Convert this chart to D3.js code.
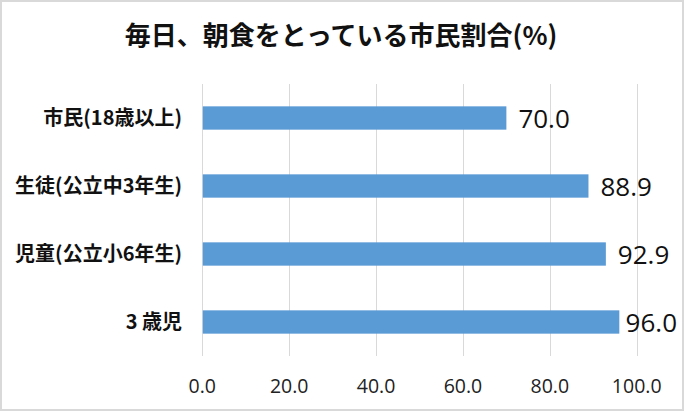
<!DOCTYPE html>
<html>
<head>
<meta charset="utf-8">
<script src="https://cdn.jsdelivr.net/npm/d3@7"></script>
<style>
  body { margin: 0; background: #fff; }
  svg { display: block; }
</style>
</head>
<body>
<svg width="685" height="412"></svg>
<script>
const title = '毎日、朝食をとっている市民割合(%)';
const categories = ['市民(18歳以上)', '生徒(公立中3年生)', '児童(公立小6年生)', '3 歳児'];
const values = [70.0, 88.9, 92.9, 96.0];
const ticks = [0, 20, 40, 60, 80, 100];

const W = 685, H = 412;
const cjk = '"Noto Sans CJK JP", "Noto Sans", sans-serif';
const num = '"Open Sans", "Noto Sans", sans-serif';

const svg = d3.select('svg');

// outer frame
svg.append('rect')
    .attr('x', 1).attr('y', 1)
    .attr('width', W - 3).attr('height', H - 3)
    .attr('fill', '#fff')
    .attr('stroke', '#d9d9d9')
    .attr('stroke-width', 2);

svg.append('text')
    .attr('x', 341).attr('y', 45)
    .attr('text-anchor', 'middle')
    .style('font-family', cjk)
    .style('font-weight', 'bold')
    .style('font-size', '26px')
    .attr('fill', '#111')
    .text(title);

const x = d3.scaleLinear().domain([0, 100]).range([202.3, 636.7]);
const y = d3.scaleBand().domain(categories).range([84, 356]).padding(0);
const barH = y.bandwidth() * 0.343;

// gridlines
svg.append('g')
    .selectAll('line')
    .data(ticks)
    .enter()
    .append('line')
    .attr('x1', d => Math.round(x(d)) + 0.5)
    .attr('x2', d => Math.round(x(d)) + 0.5)
    .attr('y1', 84)
    .attr('y2', 356)
    .attr('stroke', '#d9d9d9')
    .attr('stroke-width', 1);

// tick labels
svg.append('g')
    .selectAll('text')
    .data(ticks)
    .enter()
    .append('text')
    .attr('x', d => x(d))
    .attr('y', 393)
    .attr('text-anchor', 'middle')
    .style('font-family', num)
    .style('font-size', '19.5px')
    .attr('fill', '#222')
    .text(d => d.toFixed(1));

// category labels
svg.append('g')
    .selectAll('text')
    .data(categories)
    .enter()
    .append('text')
    .attr('x', 182)
    .attr('y', d => y(d) + y.bandwidth() / 2 + 7)
    .attr('text-anchor', 'end')
    .style('font-family', cjk)
    .style('font-weight', 'bold')
    .style('font-size', '20px')
    .attr('fill', '#111')
    .text(d => d);

// bars
svg.append('g')
    .selectAll('rect')
    .data(values)
    .enter()
    .append('rect')
    .attr('x', x(0) + 0.5)
    .attr('y', (d, i) => y(categories[i]) + (y.bandwidth() - barH) / 2)
    .attr('width', d => x(d) - x(0) - 0.5)
    .attr('height', barH)
    .attr('fill', '#5b9bd5');

// value labels, kept inside the frame
svg.append('g')
    .selectAll('text')
    .data(values)
    .enter()
    .append('text')
    .attr('y', (d, i) => y(categories[i]) + y.bandwidth() / 2 + 10)
    .style('font-family', num)
    .style('font-size', '26px')
    .attr('fill', '#111')
    .text(d => d.toFixed(1))
    .attr('x', function(d) {
      const w = this.getComputedTextLength();
      return Math.min(x(d) + 12, 677 - w);
    });
</script>
</body>
</html>
